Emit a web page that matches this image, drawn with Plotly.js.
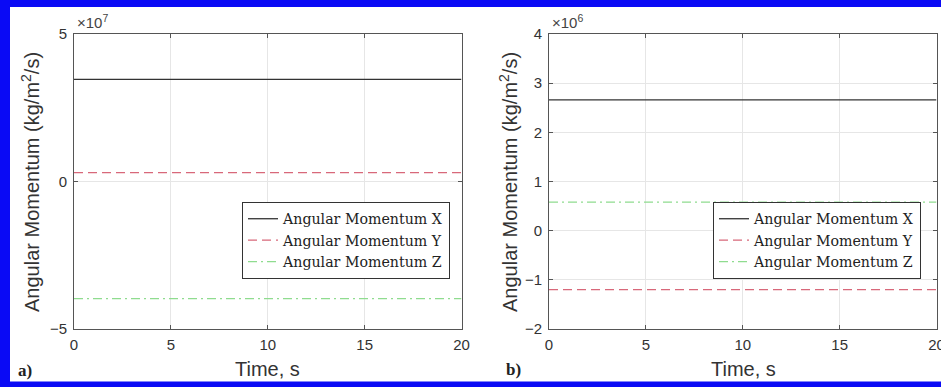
<!DOCTYPE html>
<html>
<head>
<meta charset="utf-8">
<script src="https://cdn.plot.ly/plotly-3.0.1.min.js"></script>
<style>html,body{margin:0;padding:0;background:#fff;}#chart{width:941px;height:387px;}</style>
</head>
<body>
<div id="chart"></div>
<script>
// ---- data ----
const time = [0, 5, 10, 15, 20];
// panel a) values in units of 1e7
const aX = [3.46, 3.46, 3.46, 3.46, 3.46];
const aY = [0.30, 0.30, 0.30, 0.30, 0.30];
const aZ = [-3.97, -3.97, -3.97, -3.97, -3.97];
// panel b) values in units of 1e6
const bX = [2.66, 2.66, 2.66, 2.66, 2.66];
const bY = [-1.20, -1.20, -1.20, -1.20, -1.20];
const bZ = [0.58, 0.58, 0.58, 0.58, 0.58];
const seriesNames = ['Angular Momentum X', 'Angular Momentum Y', 'Angular Momentum Z'];
const xTicks = [0, 5, 10, 15, 20];
const aTicks = [-5, 0, 5];
const bTicks = [-2, -1, 0, 1, 2, 3, 4];

const W = 941, H = 387;
const px = v => v / W, py = v => (H - v) / H;
const sans = 'Liberation Sans, Arial, sans-serif';
const serif = 'DejaVu Serif, Liberation Serif, serif';

const styles = [
  {color: '#333333', width: 1.3, dash: 'solid'},
  {color: '#d8687a', width: 1.3, dash: '9px,5px'},
  {color: '#8fdc8f', width: 1.3, dash: '9px,4px,2px,4px'}
];

function trace(y, i, xa, ya, leg) {
  return {x: time, y: y, type: 'scatter', mode: 'lines', name: seriesNames[i],
          xaxis: xa, yaxis: ya, legend: leg, line: styles[i], hoverinfo: 'skip'};
}
const data = [
  trace(aX, 0, 'x', 'y', 'legend'), trace(aY, 1, 'x', 'y', 'legend'), trace(aZ, 2, 'x', 'y', 'legend'),
  trace(bX, 0, 'x2', 'y2', 'legend2'), trace(bY, 1, 'x2', 'y2', 'legend2'), trace(bZ, 2, 'x2', 'y2', 'legend2')
];

const axBase = {
  showline: true, linecolor: '#555', linewidth: 1, mirror: 'allticks',
  ticks: 'inside', ticklen: 4, tickcolor: '#555', showgrid: true, gridcolor: '#e6e6e6',
  zeroline: false, tickfont: {family: sans, size: 15, color: '#333'}, fixedrange: true,
  ticklabeloverflow: 'allow'
};
const yDom = [py(329), py(34)];
const legBase = {bgcolor: '#fff', bordercolor: '#333', borderwidth: 1,
  font: {family: serif, size: 14.2, color: '#222'}, xanchor: 'right', yanchor: 'top',
  tracegroupgap: 0, itemwidth: 30};

function ann(text, x, y, opts) {
  return Object.assign({text: text, x: px(x), y: py(y), xref: 'paper', yref: 'paper',
    xanchor: 'center', yanchor: 'middle', showarrow: false}, opts);
}

const layout = {
  width: W, height: H, margin: {l: 0, r: 0, t: 0, b: 0},
  paper_bgcolor: '#fff', plot_bgcolor: '#fff', showlegend: true,
  xaxis: Object.assign({}, axBase, {domain: [px(74), px(461.5)], range: [0, 20], tickvals: xTicks, anchor: 'y', ticklabelstandoff: 2}),
  yaxis: Object.assign({}, axBase, {domain: yDom, range: [-5, 5], tickvals: aTicks, anchor: 'x', ticklabelstandoff: 3}),
  xaxis2: Object.assign({}, axBase, {domain: [px(549), px(936.5)], range: [0, 20], tickvals: xTicks, anchor: 'y2', ticklabelstandoff: 2}),
  yaxis2: Object.assign({}, axBase, {domain: yDom, range: [-2, 4], tickvals: bTicks, anchor: 'x2', ticklabelstandoff: 3}),
  legend: Object.assign({}, legBase, {x: px(450), y: py(202)}),
  legend2: Object.assign({}, legBase, {x: px(921), y: py(202)}),
  annotations: [
    ann('×10<sup>7</sup>', 75, 22, {xanchor: 'left', font: {family: sans, size: 15, color: '#444'}}),
    ann('×10<sup>6</sup>', 550, 22, {xanchor: 'left', font: {family: sans, size: 15, color: '#444'}}),
    ann('Angular Momentum (kg/m<sup>2</sup>/s)', 30, 182, {textangle: -90, font: {family: sans, size: 20, color: '#333'}}),
    ann('Angular Momentum (kg/m<sup>2</sup>/s)', 508, 182, {textangle: -90, font: {family: sans, size: 20, color: '#333'}}),
    ann('Time, s', 267.5, 369, {font: {family: sans, size: 20, color: '#333'}}),
    ann('Time, s', 743, 369, {font: {family: sans, size: 20, color: '#333'}}),
    ann('<b>a)</b>', 16, 370, {xanchor: 'left', font: {family: 'Liberation Serif, serif', size: 17, color: '#222'}}),
    ann('<b>b)</b>', 504, 369, {xanchor: 'left', font: {family: 'Liberation Serif, serif', size: 17, color: '#222'}})
  ],
  shapes: [
    {type: 'rect', xref: 'paper', yref: 'paper', x0: 0, x1: 1, y0: py(7), y1: 1, fillcolor: '#0a0af5', line: {width: 0}, layer: 'above'},
    {type: 'rect', xref: 'paper', yref: 'paper', x0: 0, x1: px(10), y0: 0, y1: 1, fillcolor: '#0a0af5', line: {width: 0}, layer: 'above'},
    {type: 'rect', xref: 'paper', yref: 'paper', x0: 0, x1: 1, y0: 0, y1: py(381.5), fillcolor: '#0a0af5', line: {width: 0}, layer: 'above'}
  ]
};

Plotly.newPlot('chart', data, layout, {displayModeBar: false, staticPlot: true});
</script>
</body>
</html>
